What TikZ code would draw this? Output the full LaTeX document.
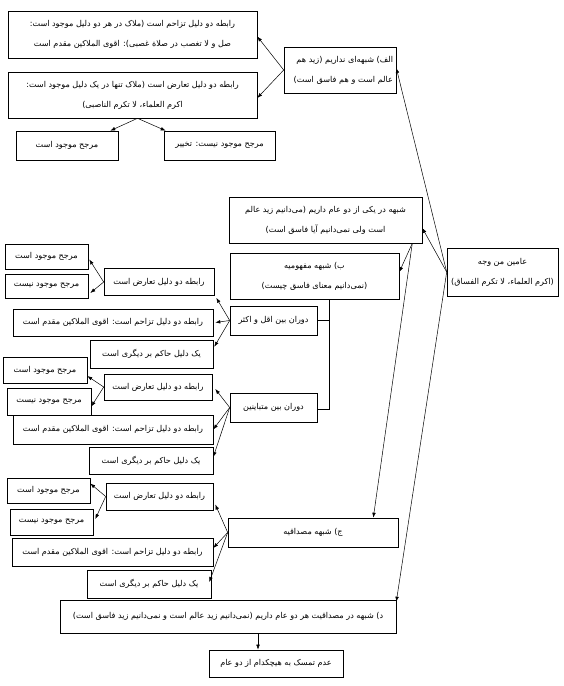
\documentclass[tikz,border=0pt]{standalone}
\usepackage{fontspec}
\usetikzlibrary{arrows.meta,calc}
\TeXXeTstate=1
\newfontfamily\arabicfont[Script=Arabic]{DejaVu Sans}
\newcommand\rtltext[1]{\beginR #1\endR}
\tikzset{
  box/.style={draw, line width=0.6pt, inner sep=0pt, align=center,
    font=\arabicfont\fontsize{8.1}{20}\selectfont},
  arr/.style={line width=0.5pt, -{Latex[length=5pt,width=3.6pt]}},
  plain/.style={line width=0.6pt},
}
\begin{document}
\begin{tikzpicture}[x=1pt,y=-1pt]
\useasboundingbox (0,0) rectangle (564,686);
% top group
\node[box, minimum width=249pt, minimum height=47pt] (A1) at (132.5,34.5)
  {\rtltext{رابطه دو دلیل تزاحم است (ملاک در هر دو دلیل موجود است:}\\
   \rtltext{صل و لا تغصب در صلاة غصبی): اقوی الملاکین مقدم است}};
\node[box, minimum width=249pt, minimum height=46pt] (A2) at (132.5,95)
  {\rtltext{رابطه دو دلیل تعارض است (ملاک تنها در یک دلیل موجود است:}\\
   \rtltext{اکرم العلماء، لا تکرم الناصبی)}};
\node[box, minimum width=102pt, minimum height=29pt] (Am) at (67,145.5)
  {\rtltext{مرجح موجود است}};
\node[box, minimum width=111pt, minimum height=29pt] (At) at (219.5,145.5)
  {\rtltext{مرجح موجود نیست: تخییر}};
\node[box, minimum width=112pt, minimum height=46pt, text width=106pt, align=right] (Alef) at (340,70)
  {\rtltext{الف) شبهه‌ای نداریم (زید هم}\\
   \rtltext{عالم است و هم فاسق است)}};
% middle
\node[box, minimum width=193pt, minimum height=46pt] (B0) at (325.5,220)
  {\rtltext{شبهه در یکی از دو عام داریم (می‌دانیم زید عالم}\\
   \rtltext{است ولی نمی‌دانیم آیا فاسق است)}};
\node[box, minimum width=111pt, minimum height=48pt] (R) at (502.5,272)
  {\rtltext{عامین من وجه}\\
   \rtltext{(اکرم العلماء، لا تکرم الفساق)}};
\node[box, minimum width=169pt, minimum height=46pt] (B) at (314.5,276)
  {\rtltext{ب) شبهه مفهومیه}\\
   \rtltext{(نمی‌دانیم معنای فاسق چیست)}};
\node[box, minimum width=87pt, minimum height=29pt] (Dq1) at (273.5,320.5)
  {\rtltext{دوران بین اقل و اکثر}};
\node[box, minimum width=87pt, minimum height=29pt] (Dq2) at (273.5,407.5)
  {\rtltext{دوران بین متباینین}};
% group 1
\node[box, minimum width=110pt, minimum height=27pt] (T1) at (159,282)
  {\rtltext{رابطه دو دلیل تعارض است}};
\node[box, minimum width=83pt, minimum height=25pt] (M1a) at (46.5,256.5)
  {\rtltext{مرجح موجود است}};
\node[box, minimum width=83pt, minimum height=24pt] (M1b) at (46.5,286)
  {\rtltext{مرجح موجود نیست}};
\node[box, minimum width=200pt, minimum height=27pt] (Z1) at (113,322.5)
  {\rtltext{رابطه دو دلیل تزاحم است: اقوی الملاکین مقدم است}};
\node[box, minimum width=123pt, minimum height=28pt] (H1) at (151.5,354)
  {\rtltext{یک دلیل حاکم بر دیگری است}};
% group 2
\node[box, minimum width=84pt, minimum height=26pt] (M2a) at (45,370)
  {\rtltext{مرجح موجود است}};
\node[box, minimum width=108pt, minimum height=26pt] (T2) at (158,387)
  {\rtltext{رابطه دو دلیل تعارض است}};
\node[box, minimum width=84pt, minimum height=27pt] (M2b) at (49,401.5)
  {\rtltext{مرجح موجود نیست}};
\node[box, minimum width=200pt, minimum height=29pt] (Z2) at (113,429.5)
  {\rtltext{رابطه دو دلیل تزاحم است: اقوی الملاکین مقدم است}};
\node[box, minimum width=124pt, minimum height=27pt] (H2) at (151,461)
  {\rtltext{یک دلیل حاکم بر دیگری است}};
% group 3
\node[box, minimum width=83pt, minimum height=25pt] (M3a) at (48.5,490.5)
  {\rtltext{مرجح موجود است}};
\node[box, minimum width=107pt, minimum height=27pt] (T3) at (159.5,496.5)
  {\rtltext{رابطه دو دلیل تعارض است}};
\node[box, minimum width=83pt, minimum height=26pt] (M3b) at (51.5,522)
  {\rtltext{مرجح موجود نیست}};
\node[box, minimum width=201pt, minimum height=28pt] (Z3) at (112.5,552)
  {\rtltext{رابطه دو دلیل تزاحم است: اقوی الملاکین مقدم است}};
\node[box, minimum width=124pt, minimum height=28pt] (H3) at (149,584)
  {\rtltext{یک دلیل حاکم بر دیگری است}};
\node[box, minimum width=170pt, minimum height=29pt] (C) at (313,532.5)
  {\rtltext{ج) شبهه مصداقیه}};
% bottom
\node[box, minimum width=336pt, minimum height=33pt] (D) at (228,616.5)
  {\rtltext{د) شبهه در مصداقیت هر دو عام داریم (نمی‌دانیم زید عالم است و نمی‌دانیم زید فاسق است)}};
\node[box, minimum width=134pt, minimum height=27pt] (E) at (276,663.5)
  {\rtltext{عدم تمسک به هیچکدام از دو عام}};
% connectors: top
\draw[arr] (Alef.west) -- ([yshift=-2pt]A1.east);
\draw[arr] (Alef.west) -- ([yshift=-3pt]A2.east);
\draw[arr] ([xshift=5pt]A2.south) -- ([xshift=-8pt]Am.north east);
\draw[arr] ([xshift=5pt]A2.south) -- ([xshift=2pt]At.north west);
% from R
\draw[arr] (R.west) -- ([yshift=2pt]Alef.east);
\draw[arr] (R.west) -- ([yshift=-8pt]B0.east);
\draw[arr] (R.west) -- ([yshift=-2pt]D.north east);
% from B0
\draw[arr] ([xshift=-10pt]B0.south east) -- ([yshift=4pt]B.east);
\draw[arr] ([xshift=-10pt]B0.south east) -- ([xshift=-25pt]C.north east);
% bracket from B
\coordinate (bj) at ([xshift=14.5pt]B.south);
\draw[plain] (bj) |- ([yshift=-2pt]Dq2.east);
\draw[plain] (Dq1.east) -- (Dq1.east -| bj);
% Dq1
\draw[arr] (Dq1.west) -- ([xshift=2pt,yshift=-2pt]T1.south east);
\draw[arr] (Dq1.west) -- ([xshift=2pt]Z1.east);
\draw[arr] (Dq1.west) -- ([xshift=1pt,yshift=-7pt]H1.north east);
\draw[arr] (T1.west) -- ([xshift=1pt,yshift=-3pt]M1a.east);
\draw[arr] (T1.west) -- ([xshift=2pt,yshift=-7pt]M1b.east);
% Dq2
\draw[arr] (Dq2.west) -- ([xshift=3pt,yshift=-2pt]T2.east);
\draw[arr] (Dq2.west) -- (Z2.east);
\draw[arr] (Dq2.west) -- ([yshift=4pt]H2.east);
\draw[arr] (T2.west) -- ([yshift=-6pt]M2a.east);
\draw[arr] (T2.west) -- ([yshift=-5pt]M2b.east);
% C
\draw[arr] (C.west) -- ([xshift=2pt,yshift=-8pt]T3.east);
\draw[arr] (C.west) -- ([yshift=4pt]Z3.east);
\draw[arr] (C.west) -- ([xshift=-2pt,yshift=2pt]H3.east);
\draw[arr] (T3.west) -- ([yshift=7pt]M3a.east);
\draw[arr] (T3.west) -- ([xshift=2pt,yshift=3pt]M3b.east);
% D to E
\draw[arr] ([xshift=30pt]D.south) -- ([xshift=30pt]D.south |- E.north);
\end{tikzpicture}
\end{document}
